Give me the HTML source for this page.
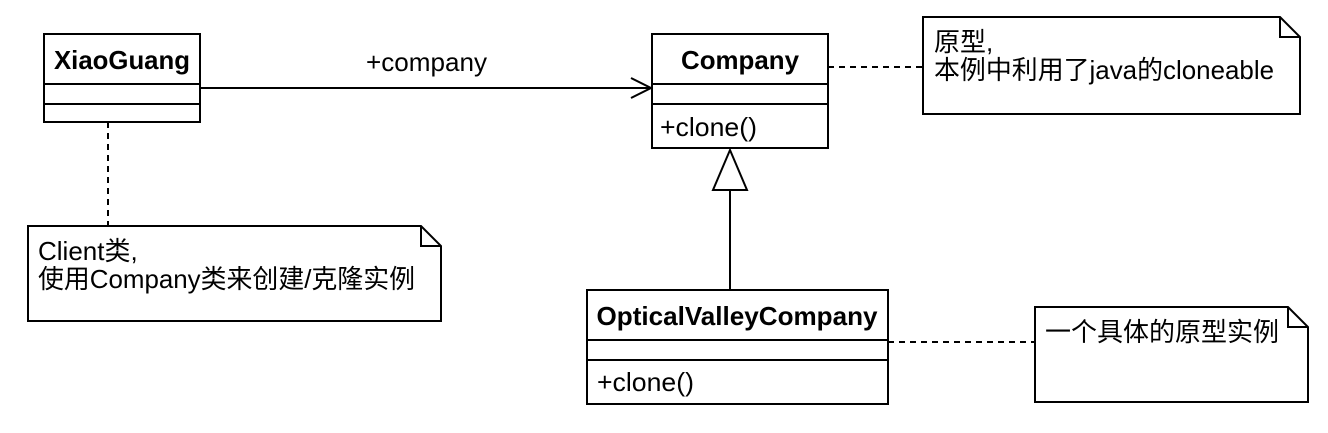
<!DOCTYPE html>
<html><head><meta charset="utf-8"><style>
body{margin:0;background:#fff}
svg text{font-family:"Liberation Sans","Noto Sans CJK SC",sans-serif;font-size:26px;fill:#000}
.b{font-weight:bold}
</style></head><body>
<svg width="1328" height="428" xmlns="http://www.w3.org/2000/svg">
<g fill="none" stroke="#000" stroke-width="2">
<rect x="44" y="34" width="156" height="88"/>
<line x1="44" y1="84" x2="200" y2="84"/><line x1="44" y1="104" x2="200" y2="104"/>
<rect x="652" y="34" width="176" height="114"/>
<line x1="652" y1="84" x2="828" y2="84"/><line x1="652" y1="104" x2="828" y2="104"/>
<rect x="587" y="290" width="301" height="114"/>
<line x1="587" y1="340" x2="888" y2="340"/><line x1="587" y1="360" x2="888" y2="360"/>
<path d="M923 17 H1280 L1300 37 V114 H923 Z M1280 17 V37 H1300"/>
<path d="M28 226 H421 L441 246 V321 H28 Z M421 226 V246 H441"/>
<path d="M1035 307 H1288 L1308 327 V402 H1035 Z M1288 307 V327 H1308"/>
<line x1="200" y1="88" x2="651" y2="88"/>
<path d="M631 78 L651 88 L631 98"/>
<line x1="730" y1="290" x2="730" y2="190"/>
<path d="M730 150 L747 190 H713 Z" fill="#fff"/>
<g stroke-dasharray="6,5">
<line x1="108" y1="122" x2="108" y2="226"/>
<line x1="828" y1="67" x2="923" y2="67"/>
<line x1="888" y1="342" x2="1035" y2="342"/>
</g>
</g>
<text x="122" y="69" class="b" text-anchor="middle" textLength="136" lengthAdjust="spacingAndGlyphs">XiaoGuang</text>
<text x="740" y="69" class="b" text-anchor="middle" textLength="118" lengthAdjust="spacingAndGlyphs">Company</text>
<text x="737" y="325" class="b" text-anchor="middle" textLength="281" lengthAdjust="spacingAndGlyphs">OpticalValleyCompany</text>
<text x="660" y="136" textLength="97" lengthAdjust="spacingAndGlyphs">+clone()</text>
<text x="597" y="391" textLength="97" lengthAdjust="spacingAndGlyphs">+clone()</text>
<text x="366" y="71" textLength="121" lengthAdjust="spacingAndGlyphs">+company</text>
<text x="934" y="51">原型,</text>
<text x="934" y="79" textLength="340" lengthAdjust="spacingAndGlyphs">本例中利用了java的cloneable</text>
<text x="38" y="260">Client类,</text>
<text x="38" y="288" textLength="377" lengthAdjust="spacingAndGlyphs">使用Company类来创建/克隆实例</text>
<text x="1045" y="341" textLength="234" lengthAdjust="spacingAndGlyphs">一个具体的原型实例</text>
</svg>
</body></html>
